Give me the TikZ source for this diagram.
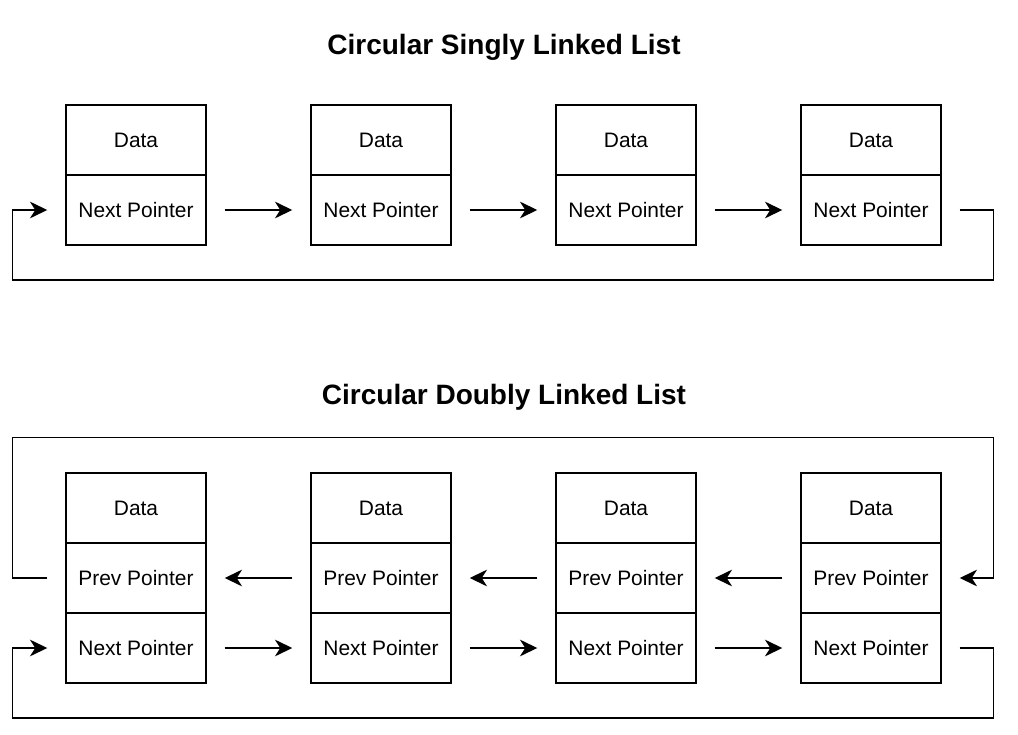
\documentclass[tikz,border=0pt]{standalone}
\usepackage{fontspec}
\setmainfont{Liberation Sans}
\usepackage{tikz}
\usetikzlibrary{calc}
\usetikzlibrary{arrows.meta}
\colorlet{cellbg}{white}
\tikzset{
  cell/.style={draw,fill=cellbg,line width=1.1pt,inner sep=0pt,
    minimum width=105pt,minimum height=52.5pt,
    font=\fontsize{15.7}{18}\selectfont},
  link/.style={line width=1.1pt,
    -{Stealth[length=13pt,width=12.5pt,inset=4pt]}},
  wire/.style={line width=1.1pt},
  heading/.style={font=\fontsize{21}{25}\selectfont\bfseries}
}

\begin{document}
\begin{tikzpicture}[x=0.75pt,y=-0.75pt]
    \useasboundingbox (0,0) rectangle (1018,735);
    % Titles
    \node[heading] (singly) at (504,47) {Circular Singly Linked List};
    \node[heading] (doubly) at (504,397) {Circular Doubly Linked List};
    % Cells
    \foreach \i/\x in {1/136,2/381,3/626,4/871} {
      \node[cell] (s\i d) at (\x,140) {Data};
      \node[cell] (s\i n) at (\x,210) {Next Pointer};
      \node[cell] (d\i d) at (\x,508) {Data};
      \node[cell] (d\i p) at (\x,578) {Prev Pointer};
      \node[cell] (d\i n) at (\x,648) {Next Pointer};
    }
    % Singly: next links
    \foreach \i/\j in {1/2,2/3,3/4}
      \draw[link,shorten <=13.5pt,shorten >=13.5pt] (s\i n) -- (s\j n);
    \draw[link] ([xshift=13.5pt]s4n.east) -| ++(34,70)
      -| ([xshift=-39.75pt]s1n.west) -- ([xshift=-13.5pt]s1n.west);
    % Doubly: prev links
    \foreach \i/\j in {2/1,3/2,4/3}
      \draw[link,shorten <=13.5pt,shorten >=13.5pt] (d\i p) -- (d\j p);
    \draw[link] ([xshift=-13.5pt]d1p.west) -- ([xshift=-39.75pt]d1p.west)
      |- ([shift={(52,-35)}]d4d.north east) |- ([xshift=13.5pt]d4p.east);
    % Doubly: next links
    \foreach \i/\j in {1/2,2/3,3/4}
      \draw[link,shorten <=13.5pt,shorten >=13.5pt] (d\i n) -- (d\j n);
    \draw[link] ([xshift=13.5pt]d4n.east) -| ++(34,70)
      -| ([xshift=-39.75pt]d1n.west) -- ([xshift=-13.5pt]d1n.west);
\end{tikzpicture}
\end{document}
